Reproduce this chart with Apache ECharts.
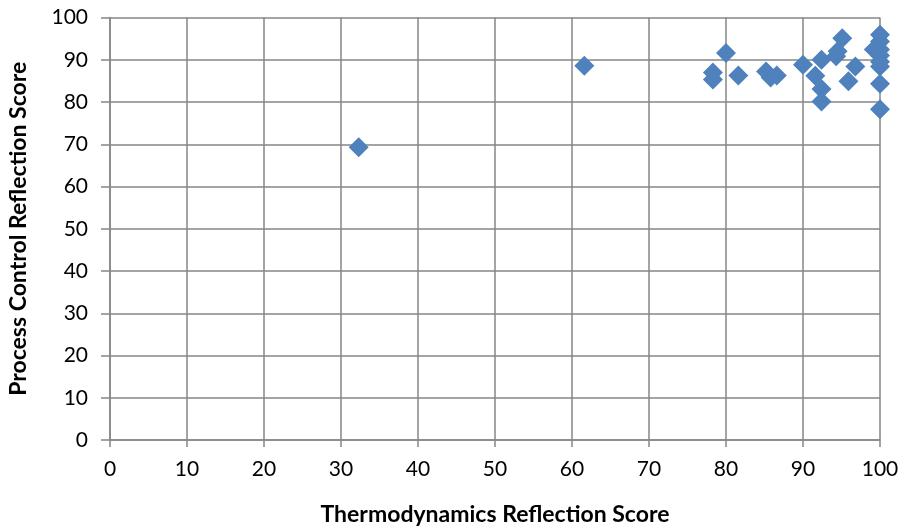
<!DOCTYPE html>
<html>
<head>
<meta charset="utf-8">
<script src="https://cdn.jsdelivr.net/npm/echarts@6/dist/echarts.min.js"></script>
<style>
  html, body { margin: 0; padding: 0; background: #fff; }
  #chart { width: 902px; height: 529px; }
</style>
</head>
<body>
<div id="chart"></div>
<script>
// reflection scores
const thermoScores = [32.3, 61.6, 78.3, 78.3, 80.0, 81.6, 85.2, 85.8, 86.6, 90.0, 91.6, 92.4, 92.4, 92.4, 94.3, 94.5, 95.1, 96.8, 95.9, 99.2, 100, 100, 100, 100, 100, 100, 100, 100]
const processScores = [69.3, 88.6, 87.0, 85.3, 91.6, 86.3, 87.2, 85.8, 86.3, 88.8, 86.2, 90.0, 83.1, 80.1, 90.8, 92.0, 95.1, 88.4, 84.9, 92.4, 95.9, 94.3, 92.4, 91.0, 89.5, 88.4, 84.3, 78.3]
const xTicks = [0, 10, 20, 30, 40, 50, 60, 70, 80, 90, 100]
const yTicks = [0, 10, 20, 30, 40, 50, 60, 70, 80, 90, 100]

const points = thermoScores.map((x, i) => [x, processScores[i]])
const fontFam = 'Lato, "Open Sans", sans-serif'
const gray = '#868686'

const chart = echarts.init(document.getElementById('chart'))
chart.setOption({
  animation: false,
  grid: { left: 110, right: 22, top: 17.5, bottom: 89, outerBoundsMode: 'none', containLabel: false },
  xAxis: {
    type: 'value',
    min: xTicks[0],
    max: xTicks[xTicks.length - 1],
    interval: 10,
    name: 'Thermodynamics Reflection Score',
    nameLocation: 'middle',
    nameGap: 63,
    nameTextStyle: { fontFamily: fontFam, fontWeight: 'bold', fontSize: 23, color: '#000' },
    axisLine: { lineStyle: { color: gray, width: 1.5 } },
    axisTick: { show: true, length: 7, lineStyle: { color: gray, width: 1.5 } },
    axisLabel: { fontFamily: fontFam, fontSize: 21, color: '#000', margin: 19 },
    splitLine: { show: true, lineStyle: { color: gray, width: 1.5 } }
  },
  yAxis: {
    type: 'value',
    min: yTicks[0],
    max: yTicks[yTicks.length - 1],
    interval: 10,
    name: 'Process Control Reflection Score',
    nameLocation: 'middle',
    nameGap: 80,
    nameTextStyle: { fontFamily: fontFam, fontWeight: 'bold', fontSize: 23, color: '#000' },
    axisLine: { show: true, lineStyle: { color: gray, width: 1.5 } },
    axisTick: { show: true, length: 9, lineStyle: { color: gray, width: 1.5 } },
    axisLabel: { fontFamily: fontFam, fontSize: 21, color: '#000', margin: 22 },
    splitLine: { show: true, lineStyle: { color: gray, width: 1.5 } }
  },
  series: [{
    type: 'scatter',
    data: points,
    symbol: 'diamond',
    symbolSize: 20,
    itemStyle: { color: '#4F81BD', opacity: 1 }
  }]
})
</script>
</body>
</html>
